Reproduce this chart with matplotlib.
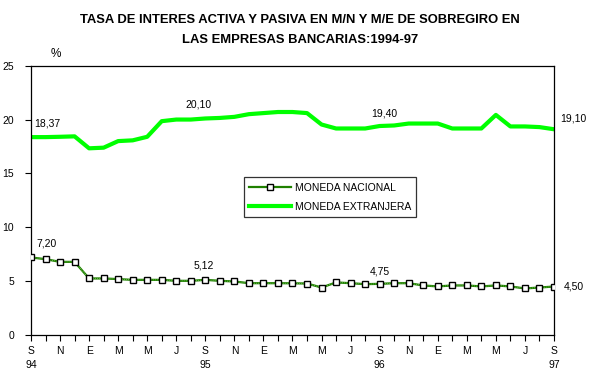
import numpy as np
import matplotlib.pyplot as plt

plt.rcParams['font.family'] = ['Liberation Sans', 'DejaVu Sans']

# Meses: setiembre 1994 a setiembre 1997
meses = ['S', 'O', 'N', 'D', 'E', 'F', 'M', 'A', 'M', 'J', 'J', 'A'] * 3 + ['S']
anios = {0: '94', 12: '95', 24: '96', 36: '97'}

# Tasas (%)
nacional = [7.20, 7.04, 6.79, 6.79, 5.25, 5.25, 5.19, 5.12, 5.12, 5.12, 5.03, 5.03,
            5.12, 5.03, 4.97, 4.81, 4.81, 4.81, 4.80, 4.78, 4.41, 4.88, 4.81, 4.72,
            4.75, 4.81, 4.81, 4.60, 4.51, 4.60, 4.60, 4.51, 4.60, 4.51, 4.32, 4.41,
            4.50]
extranjera = [18.37, 18.37, 18.40, 18.44, 17.33, 17.39, 18.00, 18.07, 18.40, 19.85, 20.00, 20.00,
              20.10, 20.15, 20.25, 20.50, 20.60, 20.70, 20.70, 20.60, 19.54, 19.17, 19.17, 19.17,
              19.40, 19.45, 19.63, 19.63, 19.63, 19.17, 19.17, 19.17, 20.43, 19.36, 19.36, 19.30,
              19.10]

# Etiquetas de datos: (indice, texto, desplazamiento en puntos)
etiq_ext = [(0, '18,37', (12, 10)), (12, '20,10', (-5, 10)), (24, '19,40', (3, 9)), (36, '19,10', (14, 8))]
etiq_nac = [(0, '7,20', (11, 10)), (12, '5,12', (-1, 10)), (24, '4,75', (0, 9)), (36, '4,50', (14, 0))]

x = np.arange(len(meses))

fig = plt.figure(figsize=(5.96, 3.81), dpi=100)
ax = fig.add_axes([0.052, 0.1207, 0.8775, 0.7069])

# linea de moneda nacional: verde oscuro con patron de puntos claros
ax.plot(x, nacional, color='#1f8000', linewidth=1.6, zorder=3)
ax.plot(x, nacional, color='#a8e090', linewidth=0.5, linestyle=(0, (1, 1.8)), zorder=3)
ax.plot(x, nacional, linestyle='none', marker='s', markersize=4.8, markerfacecolor='white',
        markeredgecolor='black', markeredgewidth=1.0, zorder=4)
ax.plot(x, extranjera, color='#00ff00', linewidth=3, zorder=2)

# entradas de leyenda
ax.plot([], [], color='#1f8000', linewidth=1.6, marker='s', markersize=4.8,
        markerfacecolor='white', markeredgecolor='black', label='MONEDA NACIONAL')
ax.plot([], [], color='#00ff00', linewidth=3, label='MONEDA EXTRANJERA')

for i, txt, off in etiq_ext:
    ax.annotate(txt, (x[i], extranjera[i]), xytext=off, textcoords='offset points',
                ha='center', va='center', fontsize=7.5, annotation_clip=False)
for i, txt, off in etiq_nac:
    ax.annotate(txt, (x[i], nacional[i]), xytext=off, textcoords='offset points',
                ha='center', va='center', fontsize=7.5, annotation_clip=False)

ax.set_xlim(0, len(meses) - 1)
ax.set_ylim(0, 25)
ax.set_yticks([0, 5, 10, 15, 20, 25])
ax.set_xticks(x)
ax.set_xticklabels([m if i % 2 == 0 else '' for i, m in enumerate(meses)])
ax.tick_params(axis='both', labelsize=7.5, length=4, width=0.8, direction='out')
ax.tick_params(axis='y', pad=8)
ax.tick_params(axis='x', pad=4)
for s in ax.spines.values():
    s.set_linewidth(0.9)

for i, a in anios.items():
    ax.text(x[i], -0.11, a, transform=ax.get_xaxis_transform(), ha='center', va='center',
            fontsize=7.5)

ax.text(0.048, 1.045, '%', transform=ax.transAxes, ha='center', va='center', fontsize=8.5)

leg = ax.legend(loc='upper left', bbox_to_anchor=(0.407, 0.585), fontsize=7.5,
                frameon=True, fancybox=False, handlelength=4.0, borderpad=0.5,
                labelspacing=0.9, handletextpad=0.4, borderaxespad=0)
leg.get_frame().set_edgecolor('black')
leg.get_frame().set_linewidth(0.9)

fig.text(0.503, 0.947, 'TASA DE INTERES ACTIVA Y PASIVA EN M/N Y M/E DE SOBREGIRO EN',
         ha='center', va='center', fontsize=9.4, fontweight='bold')
fig.text(0.503, 0.896, 'LAS EMPRESAS BANCARIAS:1994-97',
         ha='center', va='center', fontsize=9.4, fontweight='bold')

plt.savefig('out.png', dpi=100)
